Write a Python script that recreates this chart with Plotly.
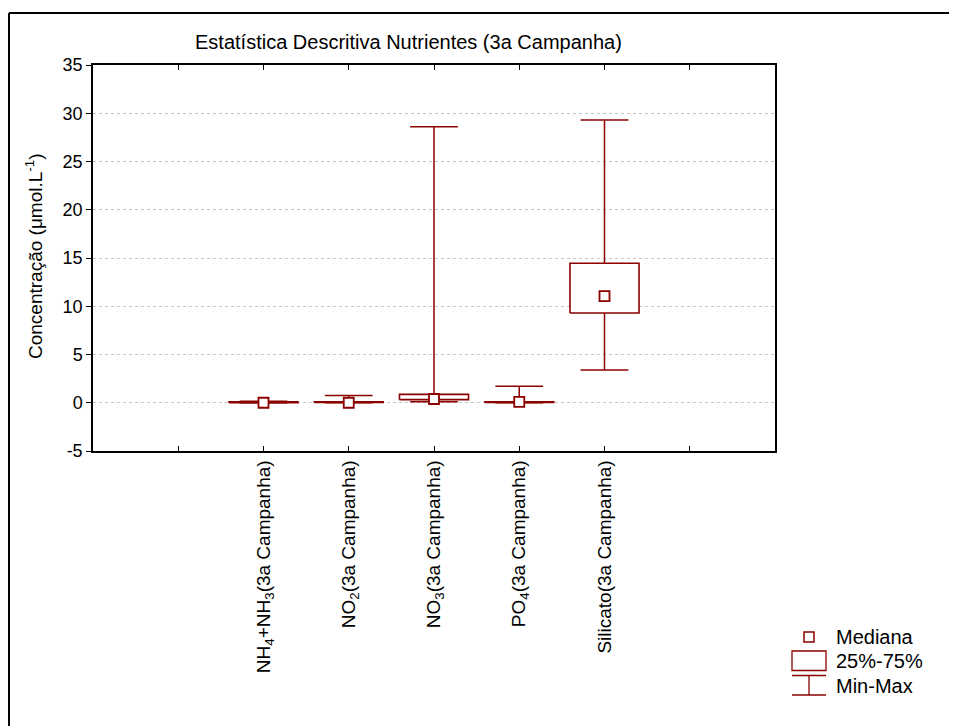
import plotly.graph_objects as go

# ---- data ----
categories = [
    "NH<sub>4</sub>+NH<sub>3</sub>(3a Campanha)",
    "NO<sub>2</sub>(3a Campanha)",
    "NO<sub>3</sub>(3a Campanha)",
    "PO<sub>4</sub>(3a Campanha)",
    "Silicato(3a Campanha)",
]
positions = [2, 3, 4, 5, 6]
mins = [0.0, 0.0, 0.1, 0.0, 3.4]
q1s = [0.0, 0.02, 0.32, 0.02, 9.3]
medians = [0.0, 0.0, 0.39, 0.1, 11.05]
q3s = [0.1, 0.1, 0.87, 0.1, 14.45]
maxs = [0.15, 0.75, 28.6, 1.7, 29.3]

y_ticks = [-5, 0, 5, 10, 15, 20, 25, 30, 35]
y_ticklabels = ["-5", "0", "5", "10", "15", "20", "25", "30", "35"]

RED = "#8B0000"
BOX_HW = 0.405   # half box width (x units)
CAP_HW = 0.28    # half cap width (x units)

OFF = 8  # page body margin
W, H = 957 - OFF, 726 - OFF
PL, PR, PT, PB = 93, 775, 65, 451          # plot area in page pixels
L, T = PL - OFF, PT - OFF
R, B = W - (PR - OFF), H - (PB - OFF)
PW, PH = PR - PL, PB - PT


def px(x):
    return (x - PL) / PW


def py(y):
    return (PB - y) / PH


# whiskers
wx, wy = [], []
for x, lo, hi in zip(positions, mins, maxs):
    wx += [x, x, None, x - CAP_HW, x + CAP_HW, None, x - CAP_HW, x + CAP_HW, None]
    wy += [lo, hi, None, lo, lo, None, hi, hi, None]

# boxes
bx, by = [], []
for x, a, b in zip(positions, q1s, q3s):
    bx += [x - BOX_HW, x + BOX_HW, x + BOX_HW, x - BOX_HW, x - BOX_HW, None]
    by += [a, a, b, b, a, None]

fig = go.Figure()
fig.add_trace(go.Scatter(x=wx, y=wy, mode="lines", line=dict(color=RED, width=1.5),
                         hoverinfo="skip", showlegend=False))
fig.add_trace(go.Scatter(x=bx, y=by, mode="lines", fill="toself", fillcolor="white",
                         line=dict(color=RED, width=1.6), hoverinfo="skip", showlegend=False))
fig.add_trace(go.Scatter(x=positions, y=medians, mode="markers",
                         marker=dict(symbol="square", size=10, color="white",
                                     line=dict(color=RED, width=1.8)),
                         showlegend=False))

FAM = "Liberation Sans, Arial, sans-serif"
font = dict(family=FAM, size=20, color="black")
tickfont_y = dict(family=FAM, size=18, color="black")
tickfont_x = dict(family=FAM, size=19, color="black")

fig.update_layout(
    width=W, height=H, autosize=False,
    margin=dict(l=L, r=R, t=T, b=B),
    paper_bgcolor="white", plot_bgcolor="white",
    font=font,
    showlegend=False,
    xaxis=dict(
        range=[0, 8], tickmode="array", tickvals=[1, 2, 3, 4, 5, 6, 7],
        ticktext=[""] + categories + [""], tickangle=-90,
        ticks="inside", ticklen=5, tickcolor="black", tickwidth=1,
        showline=True, linecolor="black", linewidth=1.5, mirror="ticks",
        showgrid=False, zeroline=False, tickfont=tickfont_x,
    ),
    yaxis=dict(
        range=[-5, 35], tickmode="array", tickvals=y_ticks, ticktext=y_ticklabels,
        ticks="outside", ticklen=5, tickcolor="black", tickwidth=1,
        showline=True, linecolor="black", linewidth=1.5, mirror=True,
        showgrid=True, gridcolor="#c4c4c4", griddash="dot", gridwidth=1,
        zeroline=False, tickfont=tickfont_y,
    ),
)

shapes = []
# outer frame (top and left visible)
shapes.append(dict(type="line", xref="paper", yref="paper", x0=px(9), x1=px(965),
                   y0=py(13), y1=py(13), line=dict(color="black", width=2)))
shapes.append(dict(type="line", xref="paper", yref="paper", x0=px(9), x1=px(9),
                   y0=py(13), y1=py(740), line=dict(color="black", width=2)))
# legend symbols
shapes.append(dict(type="rect", xref="paper", yref="paper", x0=px(804), x1=px(814),
                   y0=py(642), y1=py(632), line=dict(color=RED, width=1.5)))
shapes.append(dict(type="rect", xref="paper", yref="paper", x0=px(792), x1=px(826),
                   y0=py(670.5), y1=py(651), line=dict(color=RED, width=1.3)))
shapes.append(dict(type="line", xref="paper", yref="paper", x0=px(792), x1=px(826),
                   y0=py(675.5), y1=py(675.5), line=dict(color=RED, width=1.3)))
shapes.append(dict(type="line", xref="paper", yref="paper", x0=px(792), x1=px(826),
                   y0=py(695), y1=py(695), line=dict(color=RED, width=1.3)))
shapes.append(dict(type="line", xref="paper", yref="paper", x0=px(809), x1=px(809),
                   y0=py(675.5), y1=py(695), line=dict(color=RED, width=1.3)))
fig.update_layout(shapes=shapes)

ann = []
ann.append(dict(text="Estatística Descritiva Nutrientes (3a Campanha)", xref="paper", yref="paper",
                x=px(408), y=py(42), showarrow=False, font=font, xanchor="center", yanchor="middle"))
ann.append(dict(text="Concentração (μmol.L<sup>-1</sup>)", xref="paper", yref="paper",
                x=px(34), y=py(257), showarrow=False, font=dict(family=FAM, size=19, color="black"),
                textangle=-90, xanchor="center", yanchor="middle"))
for label, yy in [("Mediana", 637), ("25%-75%", 661), ("Min-Max", 686)]:
    ann.append(dict(text=label, xref="paper", yref="paper", x=px(834), y=py(yy),
                    showarrow=False, font=font, xanchor="left", yanchor="middle"))
fig.update_layout(annotations=ann)

fig.write_html("out.html")
